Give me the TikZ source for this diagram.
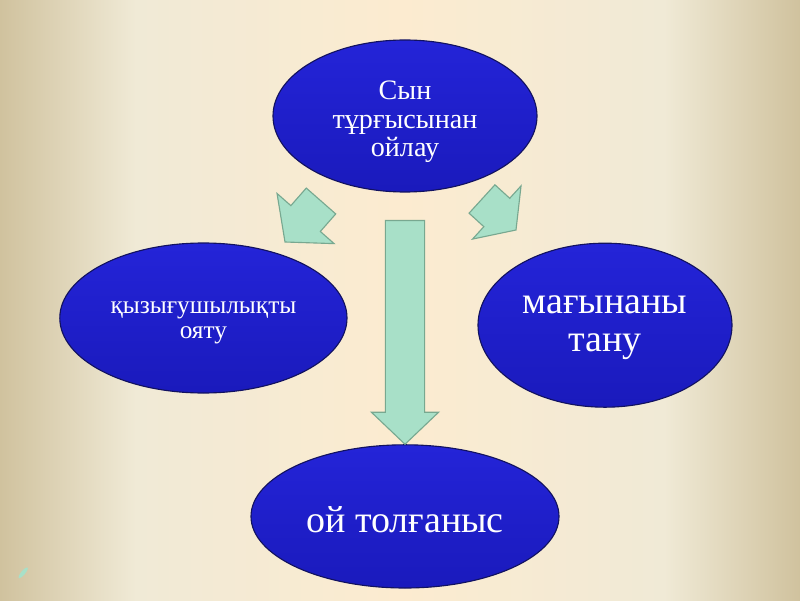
\documentclass[tikz,border=0pt]{standalone}
\usepackage{fontspec}
\setmainfont{Liberation Serif}
\usetikzlibrary{positioning,shapes.geometric,calc}

\definecolor{bgtan}{RGB}{208,194,158}
\definecolor{bgpale}{RGB}{240,234,214}
\definecolor{bgcream}{RGB}{252,235,208}
\definecolor{ovaltop}{RGB}{36,36,216}
\definecolor{ovalbot}{RGB}{26,26,188}
\definecolor{ovalline}{RGB}{18,18,96}
\definecolor{mint}{RGB}{168,224,200}
\definecolor{mintline}{RGB}{120,168,144}

\pgfdeclarehorizontalshading{slidebg}{100bp}{color(0bp)=(bgtan); color(25bp)=(bgtan); color(33.5bp)=(bgpale); color(50bp)=(bgcream); color(66.5bp)=(bgpale); color(75bp)=(bgtan); color(100bp)=(bgtan)}

\tikzset{
  oval/.style={ellipse, top color=ovaltop, bottom color=ovalbot, draw=ovalline,
    line width=0.8pt, text=white, align=center, inner sep=0pt},
  fatline/.style={fill=mint, draw=mintline, line width=0.8pt, line join=miter},
}

% block arrow: tail, tip, half stem, half head, head length
\newcommand{\fatarrow}[5]{%
  \coordinate (ah) at ($(#2)!#5!(#1)$);
  \draw[fatline] ($(#1)!#3!90:(#2)$) -- ($(ah)!#3!90:(#2)$) -- ($(ah)!#4!90:(#2)$)
    -- (#2) -- ($(ah)!#4!-90:(#2)$) -- ($(ah)!#3!-90:(#2)$) -- ($(#1)!#3!-90:(#2)$) -- cycle;}

\begin{document}
\begin{tikzpicture}
  \shade[shading=slidebg] (0,0) rectangle (20,15);
  \useasboundingbox (0,0) rectangle (20,15);

  \node[oval, minimum width=6.6cm, minimum height=3.8cm,
    font=\fontsize{20}{20.3}\selectfont] (o1) at (10.125,12.1)
    {\rule{0pt}{22pt}Сын\\тұрғысынан\\ойлау};
  \node[oval, on grid, below left=5.05cm and 5.04cm of o1, minimum width=7.18cm,
    minimum height=3.75cm, font=\fontsize{18}{17.8}\selectfont] (o2)
    {\rule{0pt}{15.5pt}қызығушылықты\\ояту};
  \node[oval, on grid, below right=5.23cm and 5cm of o1, minimum width=6.35cm,
    minimum height=4.1cm, font=\fontsize{27}{27}\selectfont] (o3)
    {\rule{0pt}{16.5pt}мағынаны\\тану};
  \node[oval, on grid, below=10.01cm of o1, minimum width=7.7cm,
    minimum height=3.58cm, font=\fontsize{27}{27}\selectfont] (o4)
    {\rule{0pt}{22.5pt}ой толғаныс};

  \coordinate (p1) at ([yshift=-0.7cm]o1.south);
  \fatarrow{p1}{o4.north}{0.49cm}{0.84cm}{0.8cm}

  \coordinate (p2) at (8.025,9.975);
  \coordinate (p3) at (7.125,8.95);
  \fatarrow{p2}{p3}{0.49cm}{0.95cm}{0.78cm}

  \coordinate (p4) at (12.05,10.025);
  \coordinate (p5) at (12.9,9.25);
  \fatarrow{p4}{p5}{0.48cm}{0.9cm}{0.65cm}

  \fill[mint, rotate around={50:(0.58,0.68)}] (0.58,0.68) ellipse (0.17 and 0.05);
\end{tikzpicture}
\end{document}
